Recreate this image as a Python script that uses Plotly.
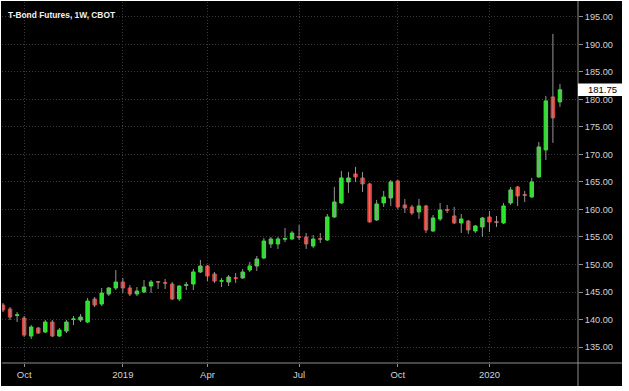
import plotly.graph_objects as go
import pandas as pd

# Weekly T-Bond futures (CBOT), first bar week of 2018-09-10
start_week = "2018-09-10"

opens = [142.64, 141.91, 140.75, 140.27, 137.0, 138.45, 137.73, 139.55, 137.0, 137.91,
         140.0, 139.91, 139.55, 143.73, 142.82, 144.64, 145.73, 146.82, 145.73, 144.64,
         145.0, 146.09, 146.9, 146.7, 146.45, 143.73, 146.2, 146.45, 148.64, 149.73,
         148.27, 146.95, 146.82, 147.6, 147.55, 149.0, 149.73, 151.18, 153.73, 153.73,
         154.6, 154.64, 155.05, 155.0, 153.36, 154.7, 154.45, 158.64, 161.18, 165.0,
         166.45, 165.73, 164.64, 158.09, 161.18, 162.09, 165.18, 160.82, 160.45, 159.55,
         160.64, 156.09, 158.27, 160.0, 158.82, 157.55, 157.91, 156.09, 156.82, 158.64,
         157.8, 157.55, 161.18, 164.09, 162.7, 162.27, 165.91, 170.82, 180.45, 179.55]

highs = [143.0, 142.27, 141.36, 140.64, 139.0, 138.64, 139.91, 139.91, 138.45, 139.91,
         140.64, 141.0, 143.91, 144.09, 145.73, 145.91, 149.0, 147.55, 146.27, 145.91,
         147.18, 147.18, 147.0, 147.36, 146.82, 146.27, 146.82, 149.18, 150.82, 149.91,
         148.64, 147.55, 148.09, 148.45, 149.18, 150.45, 151.55, 154.82, 155.0, 155.0,
         156.64, 156.09, 157.18, 155.73, 155.36, 155.73, 159.18, 164.09, 167.0, 166.82,
         167.73, 166.82, 164.82, 161.73, 163.36, 165.36, 165.36, 161.91, 160.82, 161.91,
         160.82, 159.0, 161.18, 160.82, 160.45, 159.18, 158.09, 157.18, 158.64, 159.73,
         158.82, 161.18, 164.09, 164.27, 163.36, 165.73, 172.27, 180.64, 191.91, 182.82]

lows = [141.36, 139.91, 139.55, 136.82, 136.45, 137.36, 137.55, 136.82, 136.82, 137.55,
        139.0, 139.55, 139.36, 142.27, 142.45, 144.27, 145.36, 144.82, 144.27, 144.27,
        144.82, 144.82, 145.55, 145.55, 143.55, 143.36, 145.36, 145.36, 148.45, 147.0,
        146.64, 145.91, 146.09, 146.64, 147.36, 148.64, 148.82, 151.0, 153.0, 152.82,
        154.09, 154.45, 154.45, 152.82, 153.0, 153.91, 154.27, 158.45, 161.0, 163.0,
        165.0, 163.18, 157.6, 157.91, 160.45, 160.64, 160.09, 159.36, 159.0, 158.27,
        155.73, 155.91, 157.91, 159.36, 157.36, 155.73, 155.55, 155.73, 155.0, 155.91,
        156.82, 157.36, 160.82, 160.64, 161.36, 162.09, 165.73, 169.0, 172.09, 178.64]

closes = [141.73, 140.45, 140.85, 137.18, 138.64, 137.55, 139.55, 137.0, 138.09, 139.55,
          140.1, 140.45, 143.36, 142.64, 144.82, 145.73, 146.82, 145.73, 144.64, 145.18,
          145.91, 146.82, 146.8, 146.6, 143.73, 146.09, 146.3, 148.64, 149.73, 147.91,
          147.0, 147.05, 147.73, 147.5, 148.64, 149.73, 151.0, 154.27, 154.64, 154.64,
          154.7, 155.73, 154.95, 153.73, 154.64, 154.6, 158.64, 161.36, 165.73, 165.73,
          165.91, 164.64, 157.73, 161.0, 162.27, 165.0, 160.45, 160.27, 159.36, 160.64,
          156.27, 158.45, 159.91, 159.85, 157.55, 158.27, 156.27, 157.0, 158.45, 157.73,
          157.65, 160.64, 163.55, 162.45, 162.55, 165.0, 171.36, 179.73, 176.64, 181.75]

tick_dates = ["2018-10-01", "2019-01-07", "2019-04-01", "2019-07-01", "2019-10-07", "2020-01-06"]
tick_text = ["Oct", "2019", "Apr", "Jul", "Oct", "2020"]

title_text = "T-Bond Futures, 1W, CBOT"

GREEN = "#2aea2a"
RED = "#e5443c"
WICK = "#959595"
GRID = "#3a3a3a"
AXIS = "#8f8f8f"
LABEL = "#d2d2d2"
FONT = "Liberation Sans, Arial, sans-serif"

dates = pd.date_range(start_week, periods=len(opens), freq="7D")
body_hi = [max(o, c) for o, c in zip(opens, closes)]
body_lo = [min(o, c) for o, c in zip(opens, closes)]

wick_x, wick_y = [], []
for d, l, h in zip(dates, lows, highs):
    wick_x += [d, d, None]
    wick_y += [l, h, None]

fig = go.Figure()
fig.add_trace(go.Scatter(x=wick_x, y=wick_y, mode="lines",
                         line=dict(color=WICK, width=1), hoverinfo="skip",
                         showlegend=False))
fig.add_trace(go.Candlestick(
    x=dates, open=opens, high=body_hi, low=body_lo, close=closes,
    increasing=dict(line=dict(color=GREEN, width=1), fillcolor=GREEN),
    decreasing=dict(line=dict(color=RED, width=1), fillcolor=RED),
    whiskerwidth=0, showlegend=False))

# pixel helpers for paper coords (plot area x 2..578, y 2..363)
def px(xpix):
    return (xpix - 2) / 576.0

def py(ypix):
    return (363 - ypix) / 361.0

last = closes[-1]

fig.update_layout(
    width=629, height=391,
    margin=dict(l=2, r=51, t=2, b=28, pad=0),
    paper_bgcolor="white",
    plot_bgcolor="black",
    font=dict(family=FONT, size=9, color=LABEL),
    showlegend=False,
    xaxis=dict(
        type="date",
        range=["2018-09-09 00:15", "2020-04-02 22:00"],
        rangeslider=dict(visible=False),
        tickvals=tick_dates, ticktext=tick_text,
        showgrid=True, gridcolor=GRID, griddash="1px,2px", gridwidth=1,
        ticks="outside", ticklen=3, tickcolor=AXIS,
        tickfont=dict(color=LABEL, size=9.5, family=FONT),
        showline=False, zeroline=False,
    ),
    yaxis=dict(
        side="right",
        range=[132.1, 197.7],
        tick0=0, dtick=5, tickformat=".2f",
        showgrid=True, gridcolor=GRID, griddash="1px,2px", gridwidth=1,
        ticks="outside", ticklen=4, tickcolor=AXIS,
        tickfont=dict(color=LABEL, size=9.2, family=FONT),
        showline=False, zeroline=False,
    ),
    shapes=[
        dict(type="rect", xref="paper", yref="paper",
             x0=px(1), x1=px(622), y0=py(386), y1=py(1),
             fillcolor="black", line=dict(width=0), layer="below"),
        dict(type="line", xref="paper", yref="paper",
             x0=0, x1=px(622), y0=0, y1=0,
             line=dict(color=AXIS, width=1), layer="above"),
        dict(type="line", xref="paper", yref="paper",
             x0=1, x1=1, y0=py(386), y1=py(1),
             line=dict(color=AXIS, width=1), layer="above"),
        dict(type="rect", xref="paper", yref="y",
             x0=1, x1=px(622), y0=last - 1.15, y1=last + 1.15,
             fillcolor="white", line=dict(width=0), layer="above"),
    ],
    annotations=[
        dict(text=f"<b>{title_text}</b>", xref="paper", yref="paper",
             x=px(6), y=py(15), xanchor="left", yanchor="middle",
             showarrow=False, font=dict(color="#f0f0f0", size=8.4, family=FONT)),
        dict(text=f"{last:.2f}", xref="paper", yref="y",
             x=px(586), y=last, xanchor="left", yanchor="middle",
             showarrow=False, font=dict(color="black", size=9.5, family=FONT)),
    ],
)

fig.write_html("out.html",
               config={"displayModeBar": False},
               post_script="document.body.style.margin='0';document.body.style.padding='0';")
